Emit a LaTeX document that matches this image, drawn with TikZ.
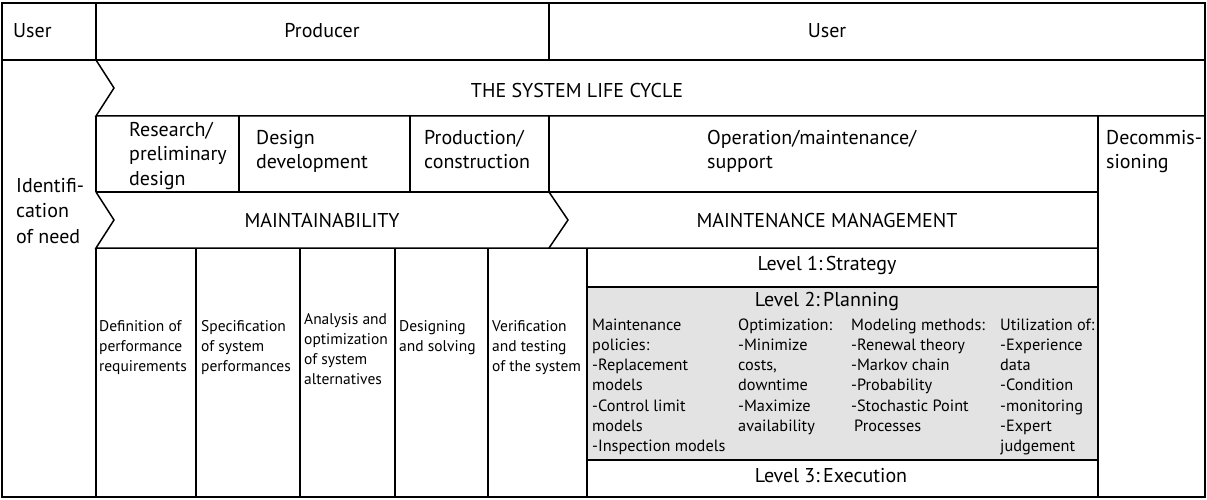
\documentclass[tikz,border=0pt]{standalone}
\usepackage{fontspec}
\setmainfont{PT Sans}
\usetikzlibrary{positioning}
\definecolor{planfill}{HTML}{E3E3E3}

\begin{document}
\begin{tikzpicture}[x=1pt, y=-1pt,
    frame/.style={draw=black, line width=1.5pt},
    big/.style={font=\fontsize{20}{24.5}\selectfont, inner sep=0pt, anchor=base},
    bigleft/.style={big, align=left, anchor=base west},
    body/.style={font=\fontsize{15.5}{20}\selectfont, inner sep=0pt, align=left, anchor=base west},
    plan/.style={font=\fontsize{16.3}{20.3}\selectfont, inner sep=0pt, align=left, anchor=base west},
    level/.style={font=\fontsize{20}{24}\selectfont, inner sep=0pt, anchor=base}
]
\useasboundingbox (0,0) rectangle (1207,500);

% shaded planning level
\fill[planfill] (587,287) rectangle (1098,460);

% outer frame and top row
\draw[frame] (2,3) rectangle (1205,497);
\draw[frame] (2,60) -- (1205,60);
\draw[frame] (96,3) -- (96,60) (549,3) -- (549,60);

% life cycle arrow
\draw[frame] (96,60) -- (114,88) -- (96,116) -- (1205,116);

% phases
\draw[frame] (96,116) -- (96,192) (239,116) -- (239,192)
    (410,116) -- (410,192) (549,116) -- (549,192);
\draw[frame] (1098,116) -- (1098,497);

% maintainability / maintenance management arrows
\draw[frame] (96,192) -- (1098,192);
\draw[frame] (96,192) -- (114,220) -- (96,248) -- (1098,248);
\draw[frame] (549,192) -- (568,220) -- (549,248);

% columns below
\foreach \x in {96,196,300,395,488,587}
    \draw[frame] (\x,248) -- (\x,497);
\draw[frame, line width=2.2pt] (587,287) -- (1098,287) (587,460) -- (1098,460);

% Top row
\node[big, anchor=base west] (userA) at (13,38) {User};
\node[big] (producer) at (322,38) {Producer};
\node[big] (userB) at (827,38) {User};

% Life cycle
\node[big] (cycle) at (577,98) {THE SYSTEM LIFE CYCLE};
\node[bigleft] (research) at (129,185) {Research/\\preliminary\\design};
\node[bigleft] (design) at (256,168.5) {Design\\development};
\node[bigleft] (production) at (424,168.5) {Production/\\construction};
\node[bigleft] (operation) at (707,168.5) {Operation/maintenance/\\support};
\node[bigleft] (decom) at (1106,168.5) {Decommis-\\sioning};
\node[bigleft, font=\fontsize{20}{25.5}\selectfont] (need) at (16,243)
    {Identifi-\\cation\\of need};

\node[big] (maintainability) at (322,227) {MAINTAINABILITY};
\node[big] (management) at (827,227) {MAINTENANCE MANAGEMENT};

% Maintainability steps
\node[body] (definition) at (99,371) {Definition of\\performance\\requirements};
\node[body] (specification) at (201,371) {Specification\\of system\\performances};
\node[body] (analysis) at (304,384) {Analysis and\\optimization\\of system\\alternatives};
\node[body] (designing) at (399,351) {Designing\\and solving};
\node[body] (verification) at (492,371) {Verification\\and testing\\of the system};

% Maintenance management levels
\node[level] (strategy) at (827,270) {Level 1:\,Strategy};
\node[level] (planning) at (827,306) {Level 2:\,Planning};
\node[level] (execution) at (831,482) {Level 3:\,Execution};

\node[plan] (policies) at (592,451.8) {Maintenance\\policies:\\-Replacement\\models\\-Control limit\\models\\-Inspection models};
\node[plan] (optimization) at (738,431.5) {Optimization:\\-Minimize\\costs,\\downtime\\-Maximize\\availability};
\node[plan] (modeling) at (851,431.5) {Modeling methods:\\-Renewal theory\\-Markov chain\\-Probability\\-Stochastic Point\\\hspace{3pt}Processes};
\node[plan] (utilization) at (1000,451.8) {Utilization of:\\-Experience\\data\\-Condition\\-monitoring\\-Expert\\judgement};

\end{tikzpicture}
\end{document}
